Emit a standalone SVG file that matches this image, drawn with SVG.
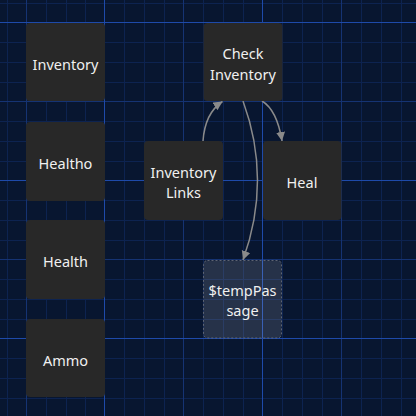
<svg xmlns="http://www.w3.org/2000/svg" width="416" height="416" viewBox="0 0 416 416">
<defs>
<style>
.minor{stroke:#0d2350;stroke-width:1}
.medium{stroke:#153373;stroke-width:1}
.bright{stroke:#1e4aaa;stroke-width:1}
.node{fill:#282828}
.temp{fill:#ffffff;fill-opacity:0.12;stroke:#5e6472;stroke-width:1;stroke-dasharray:2 2}
.label{font-family:"Noto Sans","Open Sans",sans-serif;font-size:14.5px;fill:#f0f0f0;text-anchor:middle}
.edge{fill:none;stroke:#8a8a8a;stroke-width:1.5}
</style>
<marker id="arrow" markerUnits="userSpaceOnUse" markerWidth="10" markerHeight="10" refX="9" refY="4.5" orient="auto" viewBox="0 0 10 10">
<path d="M0,0 L9,4.5 L0,9 z" fill="#8a8a8a"/>
</marker>
</defs>
<rect x="0" y="0" width="416" height="416" fill="#081630"/>
<g id="grid">
<g class="minor">
<line x1="7.5" y1="0" x2="7.5" y2="416"/>
<line x1="46.5" y1="0" x2="46.5" y2="416"/>
<line x1="66.5" y1="0" x2="66.5" y2="416"/>
<line x1="85.5" y1="0" x2="85.5" y2="416"/>
<line x1="124.5" y1="0" x2="124.5" y2="416"/>
<line x1="144.5" y1="0" x2="144.5" y2="416"/>
<line x1="164.5" y1="0" x2="164.5" y2="416"/>
<line x1="203.5" y1="0" x2="203.5" y2="416"/>
<line x1="223.5" y1="0" x2="223.5" y2="416"/>
<line x1="243.5" y1="0" x2="243.5" y2="416"/>
<line x1="282.5" y1="0" x2="282.5" y2="416"/>
<line x1="302.5" y1="0" x2="302.5" y2="416"/>
<line x1="322.5" y1="0" x2="322.5" y2="416"/>
<line x1="361.5" y1="0" x2="361.5" y2="416"/>
<line x1="381.5" y1="0" x2="381.5" y2="416"/>
<line x1="401.5" y1="0" x2="401.5" y2="416"/>
<line x1="0" y1="3.5" x2="416" y2="3.5"/>
<line x1="0" y1="42.5" x2="416" y2="42.5"/>
<line x1="0" y1="62.5" x2="416" y2="62.5"/>
<line x1="0" y1="82.5" x2="416" y2="82.5"/>
<line x1="0" y1="121.5" x2="416" y2="121.5"/>
<line x1="0" y1="141.5" x2="416" y2="141.5"/>
<line x1="0" y1="161.5" x2="416" y2="161.5"/>
<line x1="0" y1="200.5" x2="416" y2="200.5"/>
<line x1="0" y1="220.5" x2="416" y2="220.5"/>
<line x1="0" y1="240.5" x2="416" y2="240.5"/>
<line x1="0" y1="279.5" x2="416" y2="279.5"/>
<line x1="0" y1="299.5" x2="416" y2="299.5"/>
<line x1="0" y1="319.5" x2="416" y2="319.5"/>
<line x1="0" y1="358.5" x2="416" y2="358.5"/>
<line x1="0" y1="378.5" x2="416" y2="378.5"/>
<line x1="0" y1="398.5" x2="416" y2="398.5"/>
</g>
<g class="medium">
<line x1="26.5" y1="0" x2="26.5" y2="416"/>
<line x1="183.5" y1="0" x2="183.5" y2="416"/>
<line x1="341.5" y1="0" x2="341.5" y2="416"/>
<line x1="0" y1="101.5" x2="416" y2="101.5"/>
<line x1="0" y1="259.5" x2="416" y2="259.5"/>
</g>
<g class="bright">
<line x1="104.5" y1="0" x2="104.5" y2="416"/>
<line x1="262.5" y1="0" x2="262.5" y2="416"/>
<line x1="0" y1="22.5" x2="416" y2="22.5"/>
<line x1="0" y1="180.5" x2="416" y2="180.5"/>
<line x1="0" y1="338.5" x2="416" y2="338.5"/>
</g>
</g>
<g id="connectors">
<path class="edge" d="M203,141 Q205,113 222.5,101.5" marker-end="url(#arrow)"/>
<path class="edge" d="M262,101 Q277,110 282,141" marker-end="url(#arrow)"/>
<path class="edge" d="M243,101 Q272,180 243,260" marker-end="url(#arrow)"/>
</g>
<g id="node-inventory">
<rect class="node" x="26" y="23" width="79" height="78" rx="4"/>
<text class="label" x="65.5" y="70">Inventory</text>
</g>
<g id="node-healtho">
<rect class="node" x="26" y="122" width="79" height="79" rx="4"/>
<text class="label" x="65.5" y="169">Healtho</text>
</g>
<g id="node-health">
<rect class="node" x="26" y="220" width="79" height="79" rx="4"/>
<text class="label" x="65.5" y="267">Health</text>
</g>
<g id="node-ammo">
<rect class="node" x="26" y="319" width="79" height="78" rx="4"/>
<text class="label" x="65.5" y="366">Ammo</text>
</g>
<g id="node-check-inventory">
<rect class="node" x="203.5" y="23" width="79" height="78" rx="4"/>
<text class="label" x="243" y="59">Check</text>
<text class="label" x="243" y="80">Inventory</text>
</g>
<g id="node-inventory-links">
<rect class="node" x="144" y="141" width="79" height="79" rx="4"/>
<text class="label" x="183.5" y="177.5">Inventory</text>
<text class="label" x="183.5" y="198">Links</text>
</g>
<g id="node-heal">
<rect class="node" x="263" y="141" width="78.5" height="79" rx="4"/>
<text class="label" x="302" y="188">Heal</text>
</g>
<g id="node-temppassage">
<rect class="temp" x="203.5" y="260.5" width="78" height="77.5" rx="4"/>
<text class="label" x="242.5" y="296">$tempPas</text>
<text class="label" x="242.5" y="316">sage</text>
</g>
</svg>
